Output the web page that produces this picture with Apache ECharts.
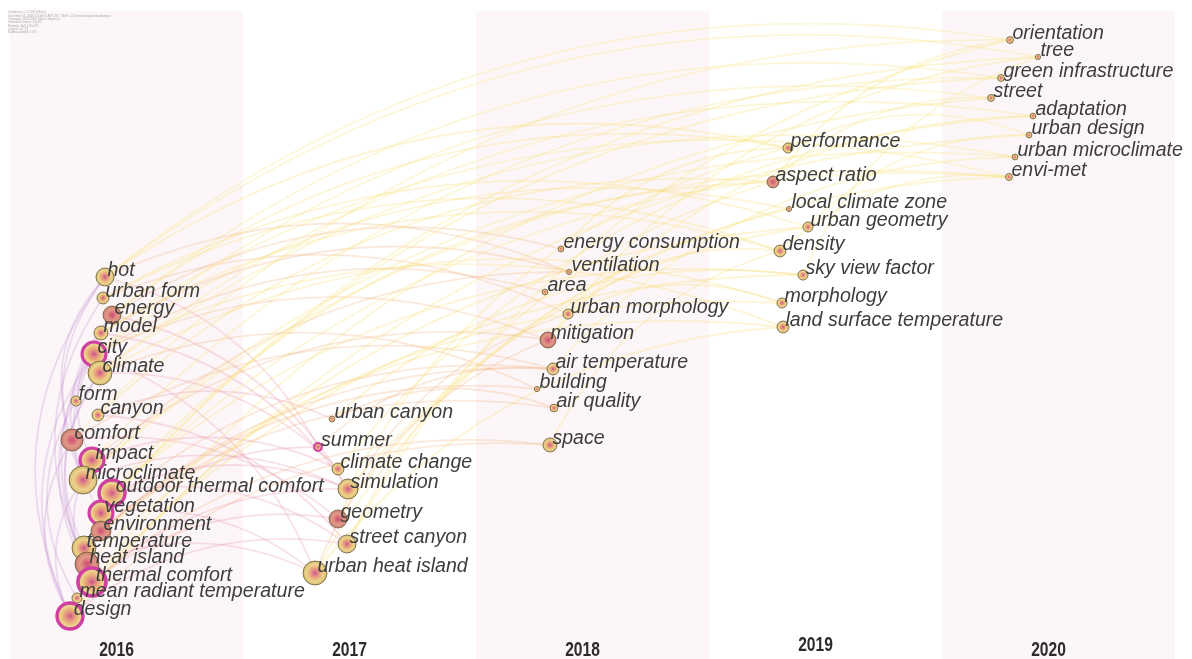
<!DOCTYPE html>
<html>
<head>
<meta charset="utf-8">
<script src="https://cdn.jsdelivr.net/npm/echarts@6/dist/echarts.min.js"></script>
<style>
html, body { margin: 0; padding: 0; background: #fff; }
#chart { width: 1192px; height: 659px; }
</style>
</head>
<body>
<div id="chart"></div>
<script>
// time zones
var years = ['2016', '2017', '2018', '2019', '2020'];

// keywords: name, layout position (x, y), frequency, kind
// kind: c = high centrality (purple ring), b = burst, n = normal
var kwNames = [
    'hot', 'urban form', 'energy', 'model', 'city', 'climate', 'form', 'canyon', 'comfort', 'impact',
    'microclimate', 'outdoor thermal comfort', 'vegetation', 'environment', 'temperature', 'heat island',
    'thermal comfort', 'mean radiant temperature', 'design',
    'urban canyon', 'summer', 'climate change', 'simulation', 'geometry', 'street canyon', 'urban heat island',
    'energy consumption', 'ventilation', 'area', 'urban morphology', 'mitigation', 'air temperature',
    'building', 'air quality', 'space',
    'performance', 'aspect ratio', 'local climate zone', 'urban geometry', 'density', 'sky view factor',
    'morphology', 'land surface temperature',
    'orientation', 'tree', 'green infrastructure', 'street', 'adaptation', 'urban design',
    'urban microclimate', 'envi-met'
];
var kwX = [
    105, 103, 112, 101, 94, 100, 76, 98, 72, 92,
    83, 112, 101, 101, 84, 87,
    92, 77, 70,
    332, 318, 338, 348, 338, 347, 315,
    561, 569, 545, 568, 548, 553,
    537, 554, 550,
    788, 773, 789, 808, 780, 803,
    782, 783,
    1010, 1038, 1001, 991, 1033, 1029,
    1015, 1009
];
var kwY = [
    277, 298, 315, 333, 354, 373, 401, 415, 440, 460,
    480, 493, 513, 531, 548, 564,
    582, 598, 616,
    419, 447, 469, 489, 519, 544, 573,
    249, 272, 292, 314, 340, 369,
    389, 408, 445,
    148, 182, 209, 227, 251, 275,
    303, 327,
    40, 57, 78, 98, 116, 135,
    157, 177
];
var kwFreq = [
    48, 21, 48, 29, 85, 85, 15, 21, 72, 85,
    116, 100, 85, 59, 85, 85,
    116, 15, 100,
    5, 9, 21, 59, 48, 48, 85,
    5, 4, 5, 15, 38, 21,
    4, 9, 29,
    15, 21, 4, 15, 21, 15,
    15, 21,
    7, 4, 7, 7, 5, 5,
    5, 7
];
var kwKind = [
    'n', 'n', 'b', 'n', 'c', 'n', 'n', 'n', 'b', 'c',
    'n', 'c', 'c', 'b', 'n', 'b',
    'c', 'n', 'c',
    'n', 'c', 'n', 'n', 'b', 'n', 'n',
    'n', 'n', 'n', 'n', 'b', 'n',
    'n', 'n', 'n',
    'n', 'b', 'n', 'n', 'n', 'n',
    'n', 'n',
    'n', 'n', 'n', 'n', 'n', 'n',
    'n', 'n'
];

// co-occurrence links, grouped by the year they first appear
var links2016 = [
    ['hot', 'design'], ['hot', 'microclimate'], ['city', 'design'], ['city', 'thermal comfort'],
    ['climate', 'temperature'], ['urban form', 'heat island'], ['energy', 'thermal comfort'],
    ['model', 'impact'], ['comfort', 'design'], ['microclimate', 'design'], ['city', 'vegetation'],
    ['climate', 'heat island'], ['form', 'mean radiant temperature'], ['hot', 'comfort'],
    ['energy', 'microclimate'], ['impact', 'thermal comfort']
];
var links2017 = [
    ['comfort', 'geometry'], ['outdoor thermal comfort', 'simulation'], ['outdoor thermal comfort', 'street canyon'],
    ['microclimate', 'simulation'], ['canyon', 'urban canyon'], ['canyon', 'street canyon'],
    ['temperature', 'summer'], ['heat island', 'urban heat island'], ['city', 'urban heat island'],
    ['climate', 'climate change'], ['vegetation', 'urban heat island'], ['thermal comfort', 'geometry'],
    ['design', 'street canyon'], ['model', 'simulation'], ['energy', 'simulation'], ['hot', 'summer'],
    ['impact', 'climate change'], ['mean radiant temperature', 'simulation']
];
var links2018 = [
    ['energy', 'energy consumption'], ['urban form', 'urban morphology'], ['hot', 'ventilation'],
    ['city', 'area'], ['city', 'mitigation'], ['impact', 'mitigation'], ['temperature', 'air temperature'],
    ['environment', 'building'], ['environment', 'air quality'], ['thermal comfort', 'space'],
    ['design', 'space'], ['vegetation', 'air temperature'], ['model', 'ventilation'],
    ['urban heat island', 'mitigation'], ['geometry', 'urban morphology'], ['climate', 'building'],
    ['comfort', 'air temperature'], ['summer', 'air temperature'], ['urban canyon', 'air quality'],
    ['microclimate', 'ventilation']
];
var links2019 = [
    ['hot', 'performance'], ['energy', 'performance'], ['canyon', 'aspect ratio'],
    ['outdoor thermal comfort', 'aspect ratio'], ['city', 'local climate zone'], ['urban form', 'urban geometry'],
    ['urban form', 'density'], ['mean radiant temperature', 'sky view factor'],
    ['outdoor thermal comfort', 'sky view factor'], ['heat island', 'morphology'],
    ['temperature', 'land surface temperature'], ['city', 'land surface temperature'],
    ['geometry', 'urban geometry'], ['street canyon', 'aspect ratio'], ['urban heat island', 'land surface temperature'],
    ['urban heat island', 'local climate zone'], ['simulation', 'performance'], ['urban canyon', 'sky view factor'],
    ['urban morphology', 'density'], ['urban morphology', 'morphology'], ['energy consumption', 'performance'],
    ['space', 'density'], ['climate', 'morphology'], ['model', 'density'], ['design', 'urban geometry']
];
var links2020 = [
    ['hot', 'orientation'], ['hot', 'tree'], ['climate', 'adaptation'], ['climate', 'urban microclimate'],
    ['model', 'envi-met'], ['microclimate', 'envi-met'], ['microclimate', 'urban microclimate'],
    ['vegetation', 'tree'], ['vegetation', 'green infrastructure'], ['comfort', 'orientation'],
    ['thermal comfort', 'street'], ['outdoor thermal comfort', 'envi-met'], ['design', 'urban design'],
    ['city', 'street'], ['impact', 'green infrastructure'], ['simulation', 'envi-met'],
    ['climate change', 'adaptation'], ['mitigation', 'adaptation'], ['mitigation', 'tree'],
    ['air temperature', 'urban microclimate'], ['aspect ratio', 'orientation'], ['aspect ratio', 'street'],
    ['sky view factor', 'tree'], ['density', 'envi-met'], ['urban geometry', 'urban design'],
    ['street canyon', 'orientation'], ['performance', 'urban design'], ['energy', 'green infrastructure']
];

var headerLines = [
    'CiteSpace, v. 5.7.R2 (64-bit)',
    'December 11, 2020 10:18:07 AM CST   WoS: C:\\Users\\citespace\\data\\project',
    'Timespan: 2016-2020 (Slice Length=1)',
    'Selection Criteria: Top 50',
    'Network: N=51, E=275',
    'Largest CC: 51',
    'Nodes Labeled: 1.0%'
];

var linkColor = {
    2016: 'rgba(196,148,212,0.6)',
    2017: 'rgba(228,146,168,0.55)',
    2018: 'rgba(240,176,124,0.55)',
    2019: 'rgba(246,218,104,0.55)',
    2020: 'rgba(248,230,130,0.6)'
};

function ringColor(kind) {
    var stops;
    if (kind == 'b') {
        stops = [[0, '#c84a7c'], [0.3, '#d97477'], [0.6, '#e09a88'], [0.85, '#d38678'], [1, '#bf7464']];
    } else {
        stops = [[0, '#d0508c'], [0.22, '#df8787'], [0.45, '#eaae78'], [0.68, '#ecd38e'], [0.86, '#dcc57c'], [1, '#c3ac5e']];
    }
    return {
        type: 'radial', x: 0.5, y: 0.5, r: 0.5,
        colorStops: stops.map(function (s) { return { offset: s[0], color: s[1] }; })
    };
}

var nodes = kwNames.map(function (name, i) {
    var size = 2.6 * Math.sqrt(kwFreq[i]);
    var kind = kwKind[i];
    return {
        name: name,
        value: [kwX[i], kwY[i]],
        symbolSize: size,
        itemStyle: {
            color: ringColor(kind),
            borderColor: kind == 'c' ? '#d03fa2' : '#6b5c3a',
            borderWidth: kind == 'c' ? Math.max(2, size * 0.13) : 0.8
        },
        label: { distance: 2 - size / 2 }
    };
});

var idx = {};
kwNames.forEach(function (n, i) { idx[n] = i; });

var links = [];
[[2016, links2016], [2017, links2017], [2018, links2018], [2019, links2019], [2020, links2020]].forEach(function (g) {
    g[1].forEach(function (p) {
        var a = idx[p[0]], b = idx[p[1]];
        var same = Math.abs(kwX[a] - kwX[b]) < 60;
        var src = p[0], tgt = p[1];
        var curv = 0.22;
        if (same) {
            // arcs inside one zone bulge to the left
            if (kwY[a] > kwY[b]) { src = p[1]; tgt = p[0]; }
            curv = -0.3;
        }
        links.push({
            source: src,
            target: tgt,
            lineStyle: { color: linkColor[g[0]], width: 1.8, curveness: curv }
        });
    });
});

var chart = echarts.init(document.getElementById('chart'));

var option = {
    animation: false,
    backgroundColor: '#ffffff',
    grid: [
        { left: 0, right: 0, top: 0, bottom: 0 },
        { left: 10, right: 17, top: 11, bottom: 0 }
    ],
    xAxis: [
        { type: 'value', gridIndex: 0, min: 0, max: 1192, show: false },
        {
            type: 'category',
            gridIndex: 1,
            data: years,
            boundaryGap: true,
            axisLine: { show: false },
            axisTick: { show: false },
            splitLine: { show: false },
            splitArea: { show: true, areaStyle: { color: ['#fdf6f8', '#ffffff'] } },
            axisLabel: { show: false }
        }
    ],
    yAxis: [
        { type: 'value', gridIndex: 0, min: 0, max: 659, inverse: true, show: false },
        { type: 'value', gridIndex: 1, min: 0, max: 1, show: false }
    ],
    series: [{
        type: 'graph',
        coordinateSystem: 'cartesian2d',
        xAxisIndex: 0,
        yAxisIndex: 0,
        layout: 'none',
        data: nodes,
        links: links,
        edgeSymbol: ['none', 'none'],
        label: {
            show: true,
            position: 'right',
            offset: [0, -6],
            color: '#3d3d3d',
            fontSize: 19.6,
            fontStyle: 'italic',
            fontFamily: "'Liberation Sans', Arial, sans-serif"
        },
        emphasis: { disabled: true },
        z: 3
    }]
};

chart.setOption(option);

// year labels under each zone, in a narrow bold face
var yearGraphics = years.map(function (y, i) {
    var px = chart.convertToPixel({ xAxisIndex: 1 }, y);
    return {
        type: 'text',
        x: px - 10,
        y: y == '2019' ? 645 : 650,
        scaleX: 0.78,
        style: {
            text: y,
            fill: '#2b2b2b',
            fontSize: 20,
            fontWeight: 'bold',
            fontFamily: "'Liberation Sans', Arial, sans-serif",
            align: 'center',
            verticalAlign: 'middle'
        }
    };
});

chart.setOption({
    graphic: [{
        type: 'text',
        x: 8,
        y: 11,
        scaleX: 0.3,
        scaleY: 0.3,
        style: {
            text: headerLines.join('\n'),
            fontSize: 10,
            lineHeight: 11,
            fill: '#a8a8a8',
            fontFamily: "'Liberation Sans', Arial, sans-serif"
        }
    }].concat(yearGraphics)
});
</script>
</body>
</html>
